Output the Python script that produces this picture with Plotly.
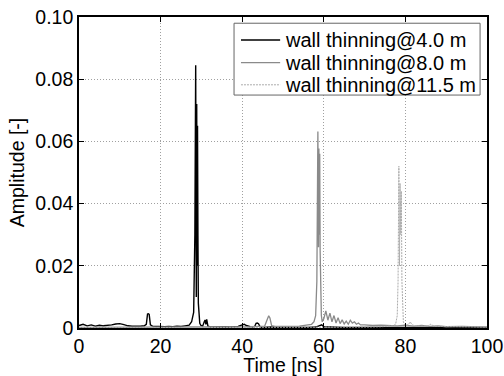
import plotly.graph_objects as go

# ---- data ----
t_black = [0, 1, 2, 3, 4, 5, 6, 7, 8, 9, 10, 11, 12, 13, 14, 15, 16, 16.5, 16.8, 17.0, 17.2, 17.5, 18, 19, 20,
           21, 22, 23, 24, 25, 26, 27, 27.6, 28.1, 28.4, 28.6, 28.75, 28.85, 28.95, 29.05, 29.15, 29.25, 29.4,
           29.6, 29.9, 30.3, 30.7, 30.9, 31.1, 31.3, 31.6, 32, 33, 34, 35, 36, 37, 38, 39, 40, 40.5, 41, 42,
           43, 43.4, 43.7, 44.0, 44.4, 45, 47, 50, 53, 56, 58, 59.5, 60, 62, 65, 70, 75, 80, 85, 90, 95, 100]
a_black = [0.0008, 0.0012, 0.0007, 0.0010, 0.0006, 0.0009, 0.0007, 0.0008, 0.0010, 0.0013, 0.0014, 0.0011,
           0.0007, 0.0006, 0.0005, 0.0006, 0.0007, 0.0012, 0.0045, 0.0046, 0.0044, 0.0010, 0.0006, 0.0005,
           0.0006, 0.0004, 0.0005, 0.0004, 0.0006, 0.0005, 0.0007, 0.0009, 0.0020, 0.0050, 0.0300, 0.0845,
           0.0100, 0.0720, 0.0200, 0.0650, 0.0297, 0.0080, 0.0030, 0.0015, 0.0008, 0.0006, 0.0020, 0.0026,
           0.0012, 0.0028, 0.0006, 0.0004, 0.0003, 0.0004, 0.0003, 0.0004, 0.0003, 0.0004, 0.0005, 0.0010,
           0.0012, 0.0008, 0.0004, 0.0003, 0.0015, 0.0016, 0.0014, 0.0003, 0.0002, 0.0003, 0.0002, 0.0003,
           0.0002, 0.0003, 0.0010, 0.0004, 0.0003, 0.0002, 0.0002, 0.0002, 0.0003, 0.0002, 0.0002, 0.0002,
           0.0002]

t_gray = [0, 10, 20, 30, 38, 40, 42, 44, 45.5, 46.2, 46.5, 46.8, 47.2, 48, 50, 52, 54, 55, 56, 57, 57.6, 58.0,
          58.3, 58.55, 58.7, 58.8, 58.9, 59.0, 59.1, 59.25, 59.4, 59.6, 60.0, 60.5, 61.0, 61.5, 62.0, 62.5,
          63.0, 63.5, 64.0, 64.5, 65.0, 65.5, 66.0, 66.5, 67.0, 67.5, 68.0, 68.5, 69, 70, 72, 74,
          76, 78, 80, 82, 84, 86, 88, 90, 94, 100]
a_gray = [0.0002, 0.0002, 0.0002, 0.0002, 0.0003, 0.0004, 0.0004, 0.0005, 0.0006, 0.0030, 0.0039, 0.0032,
          0.0008, 0.0005, 0.0004, 0.0005, 0.0006, 0.0008, 0.0010, 0.0012, 0.0020, 0.0040, 0.0150, 0.0632,
          0.0260, 0.0577, 0.0300, 0.0560, 0.0250, 0.0120, 0.0040, 0.0020, 0.0030, 0.0055, 0.0025, 0.0048,
          0.0020, 0.0040, 0.0016, 0.0033, 0.0014, 0.0026, 0.0013, 0.0022, 0.0012, 0.0025, 0.0016, 0.0020,
          0.0012, 0.0016, 0.0010, 0.0010, 0.0008, 0.0009, 0.0008, 0.0007, 0.0009, 0.0006,
          0.0008, 0.0005, 0.0007, 0.0004, 0.0005, 0.0003]

t_dot = [0, 20, 40, 60, 70, 74, 76, 77, 77.6, 78.0, 78.2, 78.4, 78.55, 78.7, 78.85, 79.0, 79.15, 79.3, 79.5,
         79.8, 80.3, 80.8, 81.2, 81.6, 82.5, 84, 85.5, 86.2, 87, 89, 92, 96, 100]
a_dot = [0.0001, 0.0001, 0.0002, 0.0002, 0.0003, 0.0004, 0.0005, 0.0007, 0.0012, 0.0040, 0.0150, 0.0520,
         0.0200, 0.0465, 0.0300, 0.0440, 0.0150, 0.0050, 0.0020, 0.0010, 0.0008, 0.0012, 0.0020, 0.0010,
         0.0007, 0.0006, 0.0007, 0.0012, 0.0006, 0.0005, 0.0004, 0.0004, 0.0003]

series_names = ["wall thinning@4.0 m", "wall thinning@8.0 m", "wall thinning@11.5 m"]
x_ticks = [0, 20, 40, 60, 80, 100]
y_ticks = [0, 0.02, 0.04, 0.06, 0.08, 0.10]
y_tick_labels = ["0", "0.02", "0.04", "0.06", "0.08", "0.10"]

FONT = "Liberation Sans, Arial"
FS = 19.5
FS_LEG = 20

styles = [
    dict(color="#000000", width=1.4, dash="solid"),
    dict(color="#8a8a8a", width=1.3, dash="solid"),
    dict(color="#ababab", width=1.0, dash="2px,1px"),
]
series = [(t_black, a_black), (t_gray, a_gray), (t_dot, a_dot)]

fig = go.Figure()
for (tx, ay), name, st in zip(series, series_names, styles):
    fig.add_trace(go.Scatter(x=tx, y=ay, mode="lines", name=name, line=st, showlegend=False))

axis_common = dict(
    showline=True, mirror="ticks", linecolor="#000000", linewidth=1.6,
    ticks="inside", ticklen=5, tickcolor="#000000", tickwidth=1,
    showgrid=True, gridcolor="#a0a0a0", griddash="1px,2px", gridwidth=1,
    zeroline=False, automargin=False,
    tickfont=dict(family=FONT, size=FS, color="#000000"),
    title_font=dict(family=FONT, size=FS, color="#000000"),
)

fig.update_xaxes(range=[0, 100], tickvals=x_ticks, title_text="Time [ns]", title_standoff=0, **axis_common)
fig.update_yaxes(range=[0, 0.10], tickvals=y_ticks, ticktext=y_tick_labels, title_text="Amplitude [-]",
                 title_standoff=6, **axis_common)

# legend box (drawn in paper coordinates to match the compact MATLAB-style legend)
fig.add_shape(type="rect", xref="paper", yref="paper", x0=0.380, x1=0.983, y0=0.749, y1=0.980,
              line=dict(color="#666666", width=1), fillcolor="#ffffff", layer="above")
row_y = [0.926, 0.853, 0.782]
for name, st, ry in zip(series_names, styles, row_y):
    fig.add_shape(type="line", xref="paper", yref="paper", x0=0.397, x1=0.493, y0=ry, y1=ry,
                  line=st, layer="above")
    fig.add_annotation(text=name, xref="paper", yref="paper", x=0.499, y=ry,
                       xanchor="left", yanchor="middle", showarrow=False,
                       font=dict(family=FONT, size=FS_LEG, color="#000000"))

fig.update_layout(
    width=504, height=376,
    margin=dict(l=79, r=17, t=17, b=48),
    paper_bgcolor="#ffffff", plot_bgcolor="#ffffff",
    showlegend=False,
    font=dict(family=FONT),
)

fig.write_html("out.html", config={"displayModeBar": False},
               post_script="document.body.style.margin='0';document.body.style.overflow='hidden';")
